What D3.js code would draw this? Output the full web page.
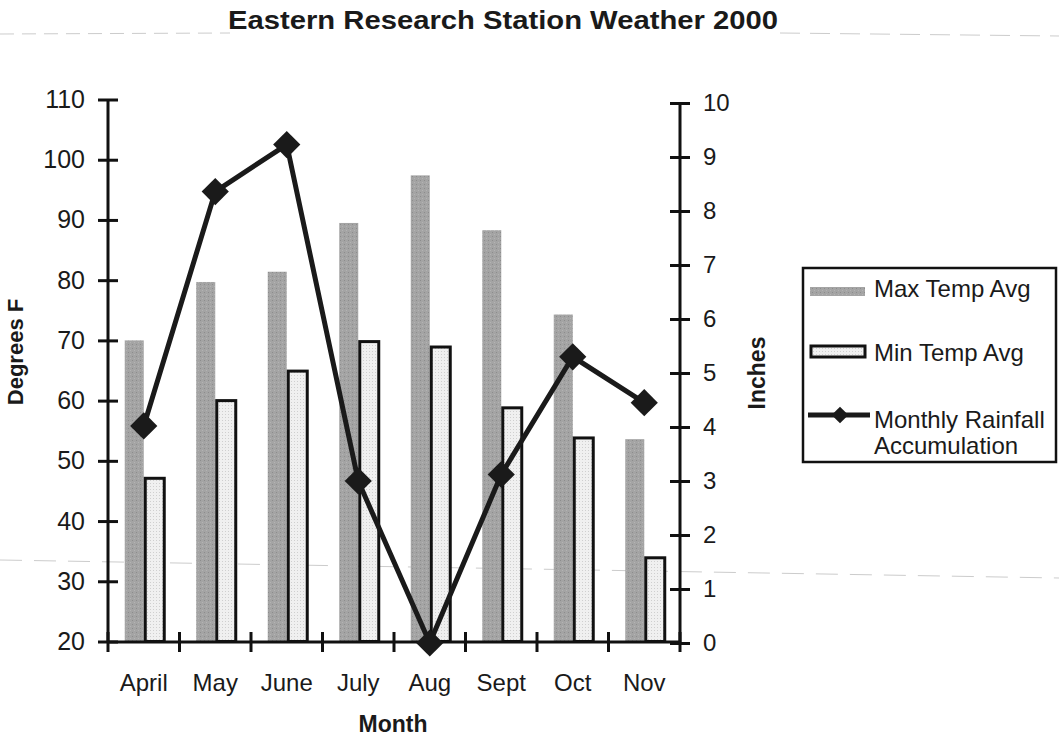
<!DOCTYPE html>
<html><head><meta charset="utf-8">
<script src="https://cdn.jsdelivr.net/npm/d3@7"></script>
<style>
html,body{margin:0;padding:0;background:#fff;}
text{font-family:"Liberation Sans",Arial,sans-serif;fill:#1a1a1a;}
</style></head>
<body><svg id="c" width="1059" height="740"></svg>
<script>
const months = ["April","May","June","July","Aug","Sept","Oct","Nov"];
const maxTemp = [70, 79.7, 81.4, 89.5, 97.4, 88.3, 74.3, 53.6];
const minTemp = [47.1, 60, 64.9, 69.8, 68.9, 58.8, 53.8, 33.9];
const rainfall = [4.02, 8.36, 9.23, 3.0, 0, 3.12, 5.3, 4.45];
const leftTicks = [20,30,40,50,60,70,80,90,100,110];
const rightTicks = [0,1,2,3,4,5,6,7,8,9,10];
const seriesNames = ["Max Temp Avg","Min Temp Avg","Monthly Rainfall","Accumulation"];

const svg = d3.select("#c");
const FF = "Liberation Sans, Arial, sans-serif";
const defs = svg.append("defs");
const p1 = defs.append("pattern").attr("id","pMax").attr("width",4).attr("height",4).attr("patternUnits","userSpaceOnUse");
p1.append("rect").attr("width",4).attr("height",4).attr("fill","#a4a4a4");
p1.append("rect").attr("x",0).attr("y",0).attr("width",1).attr("height",1).attr("fill","#8c8c8c");
p1.append("rect").attr("x",2).attr("y",2).attr("width",1).attr("height",1).attr("fill","#b4b4b4");
const p2 = defs.append("pattern").attr("id","pMin").attr("width",3).attr("height",3).attr("patternUnits","userSpaceOnUse");
p2.append("rect").attr("width",3).attr("height",3).attr("fill","#f0f0f0");
p2.append("rect").attr("x",0).attr("y",0).attr("width",1).attr("height",1).attr("fill","#cfcfcf");

// faint scan lines
svg.append("line").attr("x1",0).attr("x2",230).attr("y1",34).attr("y2",33).attr("stroke","#ccc").attr("stroke-width",1).attr("stroke-dasharray","14,8");
svg.append("line").attr("x1",780).attr("x2",1059).attr("y1",33).attr("y2",36).attr("stroke","#ccc").attr("stroke-width",1).attr("stroke-dasharray","20,10");
svg.append("line").attr("x1",0).attr("x2",1059).attr("y1",560).attr("y2",578).attr("stroke","#ccc").attr("stroke-width",1).attr("stroke-dasharray","22,12");

const x0 = 108, x1 = 680;
const x = d3.scaleBand().domain(months).range([x0, x1]).padding(0);
const yL = d3.scaleLinear().domain([20,110]).range([641.5, 99.5]);
const yR = d3.scaleLinear().domain([0,10]).range([643, 103]);

const bw = 19;
// max bars
svg.append("g").selectAll("rect").data(months).join("rect")
  .attr("x", d => x(d) + x.bandwidth()/2 - bw)
  .attr("y", (d,i) => yL(maxTemp[i]))
  .attr("width", bw)
  .attr("height", (d,i) => yL(20) - yL(maxTemp[i]))
  .attr("fill","url(#pMax)");
// min bars
svg.append("g").selectAll("rect").data(months).join("rect")
  .attr("x", d => x(d) + x.bandwidth()/2 + 1.5)
  .attr("y", (d,i) => yL(minTemp[i]))
  .attr("width", 19)
  .attr("height", (d,i) => yL(20) - yL(minTemp[i]))
  .attr("fill","url(#pMin)").attr("stroke","#111").attr("stroke-width",3);

// left axis
const gL = svg.append("g").attr("transform",`translate(${x0},0)`)
  .call(d3.axisLeft(yL).tickValues(leftTicks).tickSize(10).tickPadding(13));
gL.selectAll(".tick line").attr("x2",10).attr("x1",-10).attr("stroke","#111").attr("stroke-width",3);
gL.select(".domain").attr("d",`M0,${yL(110)}V${yL(20)}`).attr("stroke","#111").attr("stroke-width",3);
gL.selectAll("text").attr("font-size",25).attr("font-family",FF).attr("fill","#1a1a1a");

// right axis
const gR = svg.append("g").attr("transform",`translate(${x1},0)`)
  .call(d3.axisRight(yR).tickValues(rightTicks).tickSize(10).tickPadding(13));
gR.selectAll(".tick line").attr("x1",-10).attr("x2",10).attr("stroke","#111").attr("stroke-width",3);
gR.select(".domain").attr("d",`M0,${yR(10)}V${yR(0)}`).attr("stroke","#111").attr("stroke-width",3);
gR.selectAll("text").attr("font-size",24).attr("font-family",FF).attr("fill","#1a1a1a");

// x axis
const gX = svg.append("g").attr("transform",`translate(0,642)`)
  .call(d3.axisBottom(x).tickSize(0).tickPadding(32));
gX.select(".domain").attr("d",`M${x0},0H${x1}`).attr("stroke","#111").attr("stroke-width",3);
gX.selectAll("text").attr("font-size",24).attr("font-family",FF).attr("fill","#1a1a1a");
const bounds = months.map(m => x(m)).concat([x1]);
gX.append("g").selectAll("line").data(bounds).join("line")
  .attr("x1", d => d).attr("x2", d => d).attr("y1",-10).attr("y2",10)
  .attr("stroke","#111").attr("stroke-width",3);

// rainfall line
const line = d3.line().x((d,i) => x(months[i]) + x.bandwidth()/2).y(d => yR(d));
svg.append("path").datum(rainfall).attr("d", line).attr("fill","none").attr("stroke","#1a1a1a").attr("stroke-width",5).attr("stroke-linejoin","miter");
svg.append("g").selectAll("path").data(rainfall).join("path")
  .attr("d", d3.symbol().type(d3.symbolSquare).size(370))
  .attr("transform",(d,i)=>`translate(${x(months[i]) + x.bandwidth()/2},${yR(d)}) rotate(45)`)
  .attr("fill","#1a1a1a");

// titles
svg.append("text").attr("x",503).attr("y",29).attr("text-anchor","middle").attr("font-size",25).attr("font-weight","bold")
  .attr("textLength",550).attr("lengthAdjust","spacingAndGlyphs").text("Eastern Research Station Weather 2000");
svg.append("text").attr("x",393).attr("y",732).attr("text-anchor","middle").attr("font-size",23).attr("font-weight","bold").text("Month");
svg.append("text").attr("transform","translate(23,352) rotate(-90)").attr("text-anchor","middle").attr("font-size",22).attr("font-weight","bold").text("Degrees F");
svg.append("text").attr("transform","translate(765,373) rotate(-90)").attr("text-anchor","middle").attr("font-size",23).attr("font-weight","bold").text("Inches");

// legend
const lg = svg.append("g");
lg.append("rect").attr("x",803).attr("y",268).attr("width",253).attr("height",194).attr("fill","#fff").attr("stroke","#111").attr("stroke-width",2.5);
lg.append("rect").attr("x",810).attr("y",287).attr("width",55).attr("height",9).attr("fill","url(#pMax)");
lg.append("text").attr("x",874).attr("y",297).attr("font-size",24).text(seriesNames[0]);
lg.append("rect").attr("x",811).attr("y",346).attr("width",54).attr("height",11).attr("fill","url(#pMin)").attr("stroke","#111").attr("stroke-width",3);
lg.append("text").attr("x",874).attr("y",361).attr("font-size",24).text(seriesNames[1]);
lg.append("line").attr("x1",808).attr("x2",870).attr("y1",415).attr("y2",415).attr("stroke","#1a1a1a").attr("stroke-width",5);
lg.append("path").attr("d", d3.symbol().type(d3.symbolSquare).size(140)).attr("transform","translate(840,415) rotate(45)").attr("fill","#1a1a1a");
lg.append("text").attr("x",874).attr("y",428).attr("font-size",24).text(seriesNames[2]);
lg.append("text").attr("x",874).attr("y",454).attr("font-size",24).text(seriesNames[3]);
</script></body></html>
